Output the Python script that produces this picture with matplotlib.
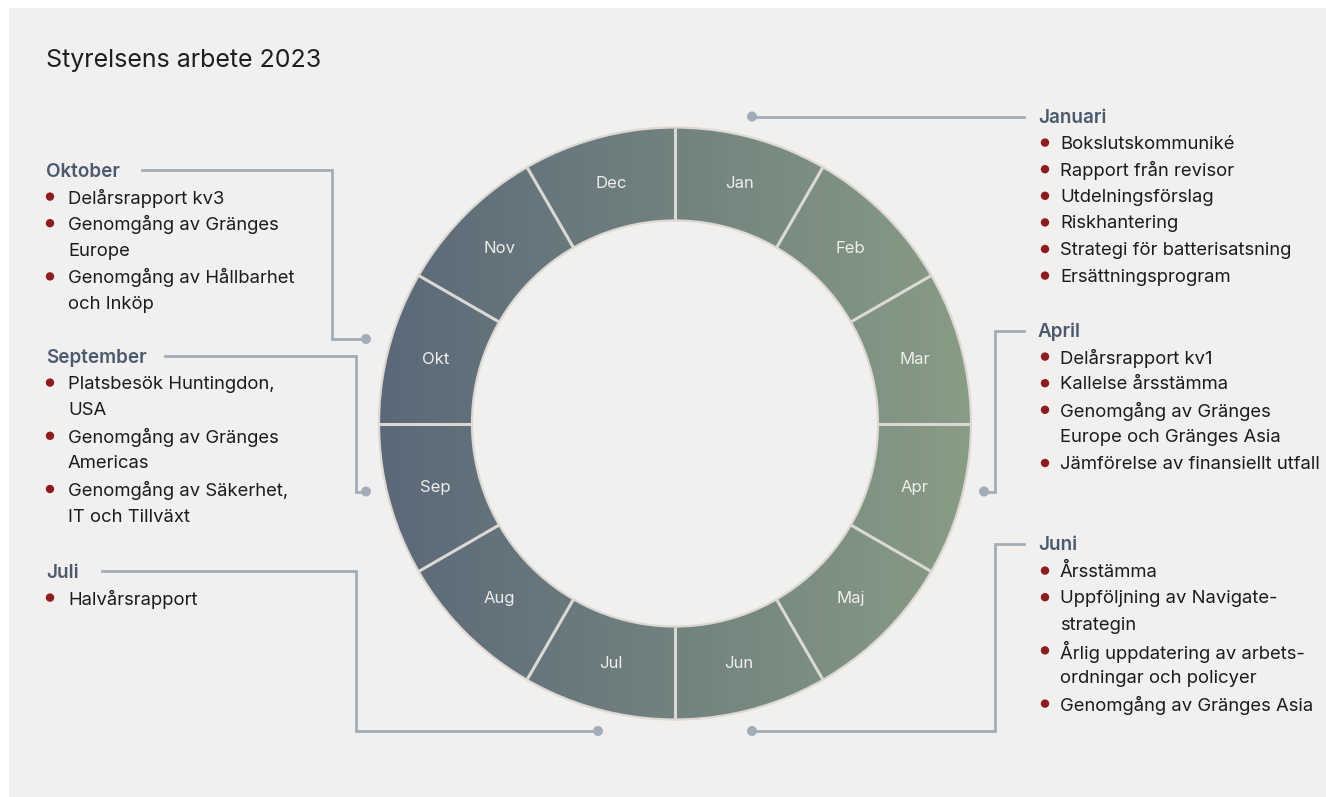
import numpy as np
import matplotlib
matplotlib.use("Agg")
import matplotlib.pyplot as plt
from matplotlib.patches import Wedge, Circle, Rectangle

plt.rcParams['font.family'] = ['Inter', 'DejaVu Sans']

# data
months = ["Jan", "Feb", "Mar", "Apr", "Maj", "Jun",
          "Jul", "Aug", "Sep", "Okt", "Nov", "Dec"]

jan_items = ["Bokslutskommuniké", "Rapport från revisor", "Utdelningsförslag",
             "Riskhantering", "Strategi för batterisatsning", "Ersättningsprogram"]
apr_items = ["Delårsrapport kv1", "Kallelse årsstämma",
             "Genomgång av Gränges\nEurope och Gränges Asia",
             "Jämförelse av finansiellt utfall"]
jun_items = ["Årsstämma", "Uppföljning av Navigate-\nstrategin",
             "Årlig uppdatering av arbets-\nordningar och policyer",
             "Genomgång av Gränges Asia"]
okt_items = ["Delårsrapport kv3", "Genomgång av Gränges\nEurope",
             "Genomgång av Hållbarhet\noch Inköp"]
sep_items = ["Platsbesök Huntingdon,\nUSA", "Genomgång av Gränges\nAmericas",
             "Genomgång av Säkerhet,\nIT och Tillväxt"]
jul_items = ["Halvårsrapport"]

W, H = 1326, 797
fig = plt.figure(figsize=(W / 100, H / 100), dpi=100)
ax = fig.add_axes([0, 0, 1, 1])
ax.set_xlim(0, W)
ax.set_ylim(H, 0)
ax.set_aspect('equal')
ax.axis('off')
fig.patch.set_facecolor('white')

bg = '#f2f0ee'
ax.add_patch(Rectangle((9, 8), W - 9, H - 8, facecolor=bg, edgecolor='none', zorder=0))

ax.text(46, 60, "Styrelsens arbete 2023", fontsize=18, color='#1e1e1e', va='center', ha='left')

# ring
cx, cy = 675, 423.5
r_out, r_in = 296, 203
ring = Wedge((cx, cy), r_out, 0, 360, width=r_out - r_in, facecolor='none', edgecolor='none')
ax.add_patch(ring)
c_left = np.array([91, 104, 121]) / 255
c_right = np.array([137, 156, 133]) / 255
t = np.linspace(0, 1, 400)
grad = (c_left[None, :] * (1 - t[:, None]) + c_right[None, :] * t[:, None])[None, :, :]
im = ax.imshow(grad, extent=[cx - r_out, cx + r_out, cy + r_out, cy - r_out],
               aspect='auto', zorder=1, interpolation='bilinear')
im.set_clip_path(ring)
ax.set_xlim(0, W)
ax.set_ylim(H, 0)

sep_col = '#dcd8d4'
ax.add_patch(Circle((cx, cy), r_out, facecolor='none', edgecolor=sep_col, lw=1.6, zorder=3))
ax.add_patch(Circle((cx, cy), r_in, facecolor='none', edgecolor=sep_col, lw=1.6, zorder=3))
r_mid = 248
for i, m in enumerate(months):
    a = np.radians(i * 30)
    ax.plot([cx + r_in * np.sin(a), cx + r_out * np.sin(a)],
            [cy - r_in * np.cos(a), cy - r_out * np.cos(a)],
            color=sep_col, lw=2.2, zorder=3, solid_capstyle='butt')
    am = np.radians(i * 30 + 15)
    ax.text(cx + r_mid * np.sin(am), cy - r_mid * np.cos(am), m,
            color='#eeeeec', fontsize=12, ha='center', va='center', zorder=4)

# connectors
line_col = '#a3adb8'
connectors = [
    [(752, 116.5), (1024, 116.5)],
    [(984, 491.5), (994.5, 491.5), (994.5, 330.5), (1024, 330.5)],
    [(752, 731), (994.5, 731), (994.5, 544), (1024, 544)],
    [(142, 170), (332, 170), (332, 339), (366, 339)],
    [(165, 355.5), (355.5, 355.5), (355.5, 491.5), (366, 491.5)],
    [(102, 571), (355.5, 571), (355.5, 731), (598, 731)],
]
dots = [(752, 116.5), (984, 491.5), (752, 731), (366, 339), (366, 491.5), (598, 731)]
for pts in connectors:
    xs, ys = zip(*pts)
    ax.plot(xs, ys, color=line_col, lw=2.0, zorder=2, solid_joinstyle='miter')
for d in dots:
    ax.add_patch(Circle(d, 5, facecolor=line_col, edgecolor='none', zorder=2))

# text blocks
step = 26.6
head_col = '#4b5a6e'
bullet_col = '#8c1c1f'


def block(x_head, y_head, title, items, x_bullet, x_text):
    ax.text(x_head, y_head + 1.5, title, fontsize=13.6, fontweight='semibold', color=head_col,
            va='center', ha='left')
    y = y_head + step
    for it in items:
        lines = it.split('\n')
        ax.add_patch(Circle((x_bullet, y), 4.2, facecolor=bullet_col, edgecolor='none'))
        for ln in lines:
            ax.text(x_text, y + 1.5, ln, fontsize=13.3, color='#1c1c1c', va='center', ha='left')
            y += step


block(1038, 116, "Januari", jan_items, 1045, 1060)
block(1038, 330, "April", apr_items, 1045, 1060)
block(1038, 544, "Juni", jun_items, 1045, 1060)
block(46, 170, "Oktober", okt_items, 50, 68)
block(46, 356, "September", sep_items, 50, 68)
block(46, 571, "Juli", jul_items, 50, 68)

fig.savefig("out.png", dpi=100, facecolor='white')
